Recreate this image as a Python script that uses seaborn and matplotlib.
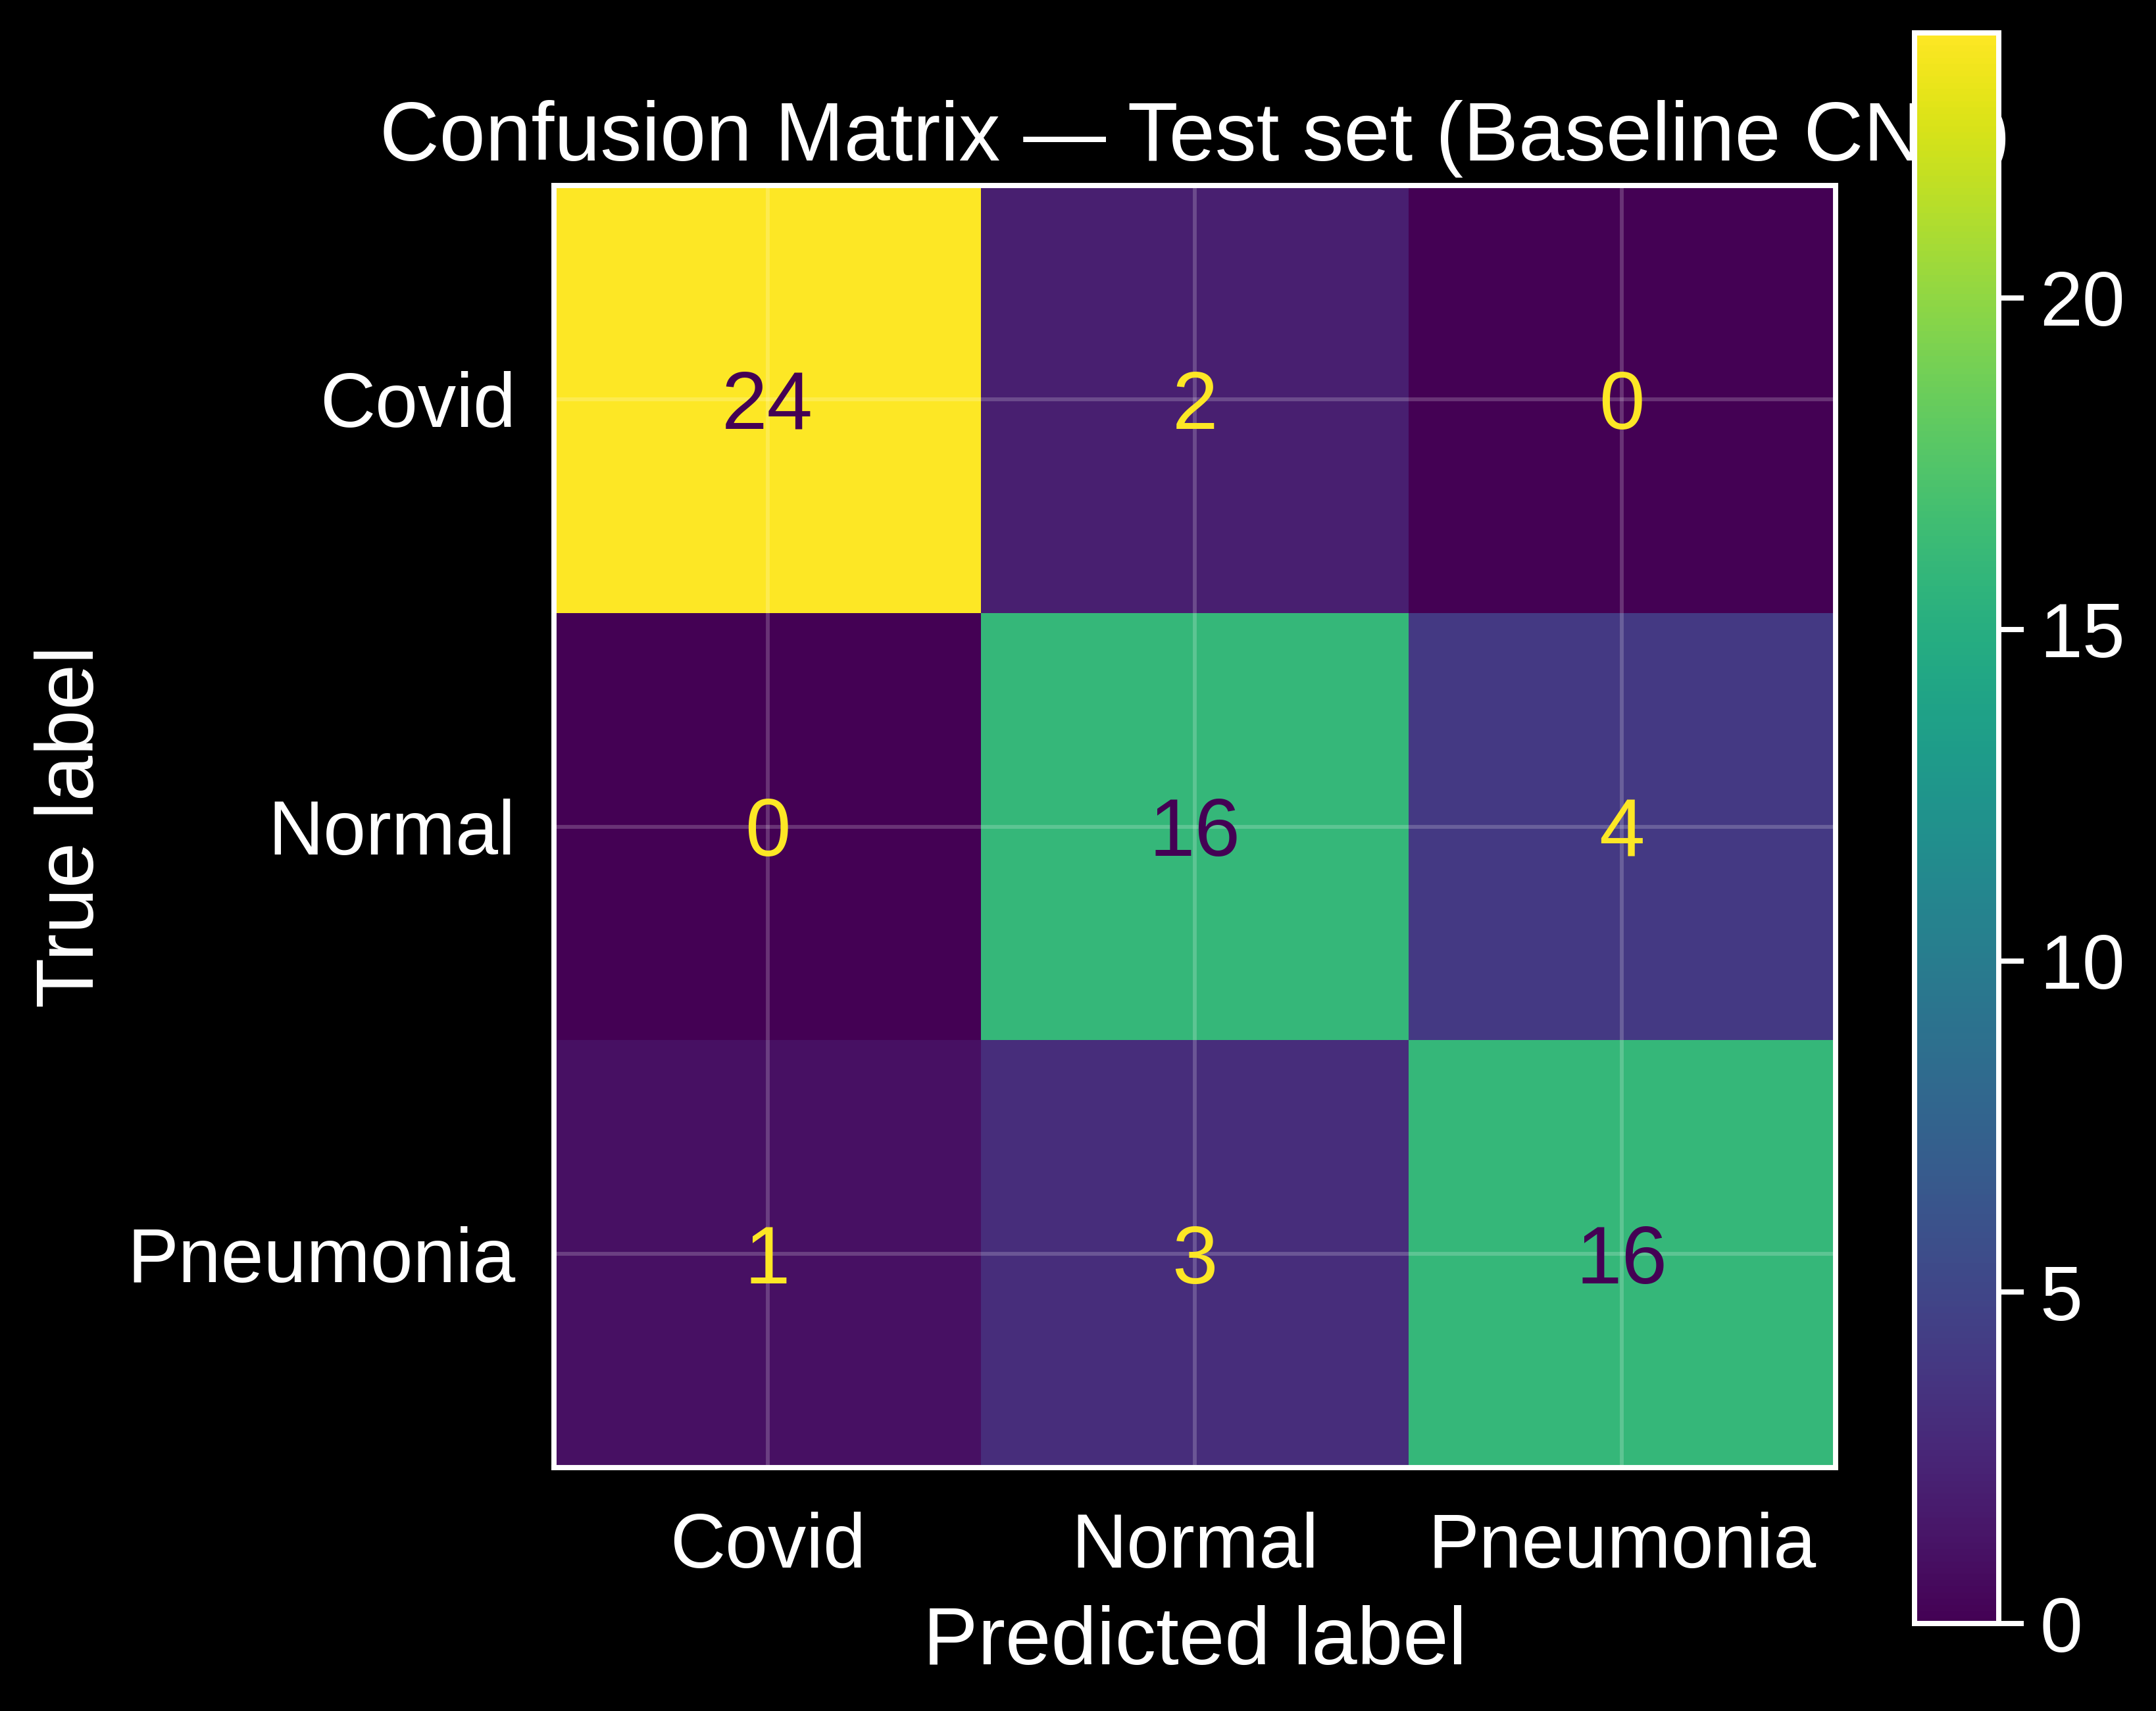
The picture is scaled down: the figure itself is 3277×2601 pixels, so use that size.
import numpy as np
import pandas as pd
import seaborn as sns
import matplotlib
matplotlib.use('Agg')
import matplotlib.pyplot as plt

classes = ['Covid', 'Normal', 'Pneumonia']
covid_row = [24, 2, 0]
normal_row = [0, 16, 4]
pneumonia_row = [1, 3, 16]
cbar_ticks = [0, 5, 10, 15, 20]

cm = pd.DataFrame([covid_row, normal_row, pneumonia_row], index=classes, columns=classes)

plt.style.use('dark_background')
plt.rcParams['font.family'] = ['Liberation Sans', 'DejaVu Sans']

W, H = 3277, 2601
fig = plt.figure(figsize=(W / 300, H / 300), dpi=300)
ax = fig.add_axes([842 / W, 1 - 2231 / H, 1948 / W, 1949 / H])
cax = fig.add_axes([2910 / W, 1 - 2468 / H, 128 / W, 2418 / H])

cmap = plt.get_cmap('viridis')
sns.heatmap(cm, ax=ax, cbar_ax=cax, cmap=cmap, vmin=0, vmax=cm.values.max(),
            annot=True, fmt='d', annot_kws={'fontsize': 30, 'va': 'center_baseline'})

# sklearn-style text colours: dark on bright cells, yellow on dark cells
thresh = cm.values.max() / 2
for t in ax.texts:
    v = int(t.get_text())
    t.set_color(cmap(0.0) if v > thresh else cmap(1.0))

ax.set_axisbelow(False)
ax.grid(True, color='white', alpha=0.2, linewidth=1.4)
for s in ax.spines.values():
    s.set_visible(True)
    s.set_color('white')
    s.set_linewidth(1.9)

ax.tick_params(length=0, labelsize=28)
ax.tick_params(axis='x', pad=16)
ax.tick_params(axis='y', pad=14)
ax.set_yticklabels(classes, rotation=0, va='center_baseline')
ax.set_xticklabels(classes, rotation=0)
ax.set_xlabel('Predicted label', fontsize=30, labelpad=8)
ax.set_ylabel('True label', fontsize=30, labelpad=6)
ax.set_title('Confusion Matrix — Test set (Baseline CNN)', fontsize=30.2, pad=9)

cax.set_yticks(cbar_ticks)
cax.tick_params(labelsize=28, length=9, width=1.9, pad=6)
cax.set_zorder(5)
for s in cax.spines.values():
    s.set_visible(True)
    s.set_color('white')
    s.set_linewidth(1.9)

fig.savefig('out.png', dpi=300, facecolor='black')
